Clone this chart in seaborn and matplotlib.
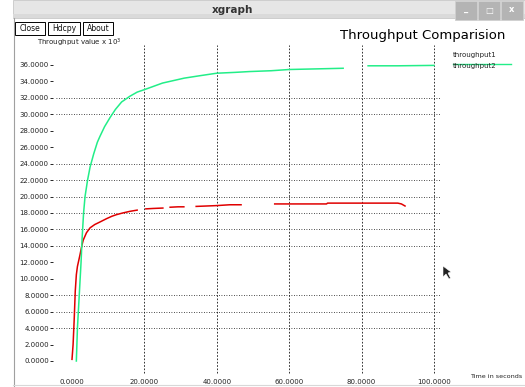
import numpy as np
import pandas as pd
import matplotlib
matplotlib.use("Agg")
import matplotlib.pyplot as plt
from matplotlib.patches import Rectangle, Polygon
import seaborn as sns

# ---------------- data ----------------
# throughput1 (red), segments separated by gaps in the trace
t1_seg = [0]*19 + [1]*3 + [2]*3 + [3]*5 + [4]*7
t1_time = [0.0, 0.3, 0.6, 0.9, 1.2, 1.5, 2.2, 2.7, 3.1, 4.0, 5.0, 6.3, 7.7, 9.5, 11.0, 12.3, 14.0, 16.0, 18.0,
           20.4, 22.4, 25.1,
           27.1, 29.3, 30.9,
           34.3, 37.2, 40.0, 43.6, 46.7,
           56.0, 63.0, 70.3, 70.6, 90.0, 91.0, 92.0]
t1_val = [0.2, 2.0, 5.0, 8.5, 10.5, 11.5, 12.9, 14.0, 14.7, 15.6, 16.2, 16.6, 16.9, 17.3, 17.6, 17.8, 18.0, 18.2, 18.35,
          18.5, 18.55, 18.6,
          18.7, 18.75, 18.75,
          18.8, 18.85, 18.9, 19.0, 19.0,
          19.1, 19.1, 19.1, 19.2, 19.2, 19.1, 18.85]

# throughput2 (green)
t2_seg = [0]*31 + [1]*3
t2_time = [1.2, 1.5, 2.0, 2.5, 2.8, 3.2, 3.6, 4.3, 5.0, 6.0, 7.0, 7.7, 9.0, 10.5, 12.0, 13.7, 16.0, 18.0, 20.0,
           22.5, 25.0, 28.0, 31.0, 35.4, 40.0, 45.0, 49.0, 55.0, 60.0, 70.0, 74.9,
           81.8, 90.0, 100.0]
t2_val = [0.0, 4.0, 8.0, 12.0, 15.0, 18.0, 20.0, 22.0, 23.6, 25.2, 26.6, 27.3, 28.5, 29.6, 30.6, 31.5, 32.2, 32.7, 33.0,
          33.4, 33.8, 34.1, 34.4, 34.7, 35.0, 35.1, 35.2, 35.3, 35.45, 35.55, 35.6,
          35.9, 35.9, 35.95]

y_ticks = [0, 2, 4, 6, 8, 10, 12, 14, 16, 18, 20, 22, 24, 26, 28, 30, 32, 34, 36]
y_grid = [4, 6, 8, 14, 16, 18, 20, 22, 24, 30, 32]
x_ticks = [0, 20, 40, 60, 80, 100]
x_grid = [20, 40, 60, 80, 100]
series_names = ["throughput1", "throughput2"]
series_colors = ["#e00000", "#22ee88"]

df = pd.concat([
    pd.DataFrame({"time": t1_time, "value": t1_val, "seg": t1_seg, "series": series_names[0]}),
    pd.DataFrame({"time": t2_time, "value": t2_val, "seg": t2_seg, "series": series_names[1]}),
], ignore_index=True)

# ---------------- figure ----------------
W, H = 525, 387
fig = plt.figure(figsize=(W/100, H/100), dpi=100)
fig.patch.set_facecolor("white")

def fx(px):
    return px / W

def fy(py):
    return 1 - py / H

# window chrome
fig.add_artist(Rectangle((fx(13), fy(18)), fx(525) - fx(13), 18 / H, transform=fig.transFigure,
                         facecolor="#e6e6e6", edgecolor="#c8c8c8", lw=0.6))
fig.add_artist(Rectangle((fx(13), fy(18)), fx(525) - fx(13), 4 / H, transform=fig.transFigure,
                         facecolor="#dadada", edgecolor="none"))
fig.text(fx(233), fy(10), "xgraph", ha="center", va="center", fontsize=7.5, fontweight="bold", color="#333333")
for bx, sym in [(455, "_"), (478, "□"), (501, "x")]:
    fig.add_artist(Rectangle((fx(bx), fy(20)), 22 / W, 19 / H, transform=fig.transFigure,
                             facecolor="#b4b4b4", edgecolor="#d0d0d0", lw=0.6))
    fig.text(fx(bx + 11), fy(10), sym, ha="center", va="center", fontsize=6, color="white", fontweight="bold")
fig.add_artist(plt.Line2D([fx(13.5), fx(13.5)], [fy(18), fy(387)], transform=fig.transFigure, color="#a0a0a0", lw=0.8))
fig.add_artist(plt.Line2D([fx(13), fx(525)], [fy(385), fy(385)], transform=fig.transFigure, color="#d8d8d8", lw=0.8))

# buttons
for bx0, bx1, lab in [(15, 45, "Close"), (48, 80, "Hdcpy"), (83, 113, "About")]:
    fig.add_artist(Rectangle((fx(bx0), fy(35)), (bx1 - bx0) / W, 13 / H, transform=fig.transFigure,
                             facecolor="white", edgecolor="black", lw=0.7))
    fig.text(fx((bx0 + bx1) / 2), fy(28.5), lab, ha="center", va="center", fontsize=5.5, color="#111111")

fig.text(fx(37), fy(43), "Throughput value x 10$^3$", ha="left", va="center", fontsize=5, color="#222222")
fig.text(fx(505), fy(35), "Throughput Comparision", ha="right", va="center", fontsize=9.5, color="black")
fig.text(fx(522), fy(377), "Time in seconds", ha="right", va="center", fontsize=4.6, color="#222222")

# ---------------- plot area ----------------
ax = fig.add_axes([fx(53), fy(385), (440 - 53) / W, (385 - 45) / H])
ax.set_xlim(-5.25, 101.66)
ax.set_ylim(-2.92, 38.43)
ax.set_facecolor("none")
for s in ax.spines.values():
    s.set_visible(False)

ax.hlines(y_grid, -4.5, 101.66, colors="#111111", linestyles=(0, (1, 2)), lw=0.6, zorder=1)
ax.vlines(x_grid, -1.46, 38.43, colors="#111111", linestyles=(0, (2, 2)), lw=0.6, zorder=1)

sns.lineplot(data=df, x="time", y="value", hue="series", units="seg", estimator=None,
             sort=False, palette=dict(zip(series_names, series_colors)), lw=1.1,
             legend=False, ax=ax, zorder=3)

ax.set_yticks(y_ticks)
ax.set_yticklabels([f"{v:.4f}" for v in y_ticks], fontsize=5, color="#222222")
ax.tick_params(axis="y", length=2, width=0.6, pad=1)
ax.set_xticks([])
ax.set_xlabel("")
ax.set_ylabel("")
for xv in x_ticks:
    ax.text(xv, -2.5, f"{xv:.4f}", ha="center", va="center", fontsize=5, color="#222222")

# legend (xgraph style: text with line over it)
fig.text(fx(453), fy(55), series_names[0], ha="left", va="center", fontsize=5, color="#222222")
fig.text(fx(453), fy(66), series_names[1], ha="left", va="center", fontsize=5, color="#222222")
fig.add_artist(plt.Line2D([fx(453), fx(511)], [fy(63.5), fy(63.5)], transform=fig.transFigure,
                          color=series_colors[1], lw=1.0))

# mouse pointer
fig.add_artist(Polygon([(fx(443), fy(266)), (fx(443), fy(277)), (fx(446), fy(274)), (fx(449), fy(279)),
                        (fx(450.5), fy(278)), (fx(448), fy(273)), (fx(451), fy(272))],
                       closed=True, transform=fig.transFigure, facecolor="#222222", edgecolor="white", lw=0.4))

fig.savefig("out.png", dpi=100)
